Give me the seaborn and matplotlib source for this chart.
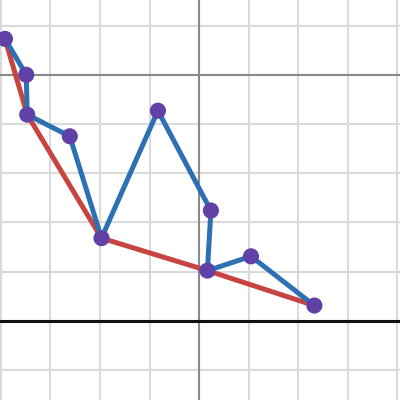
import matplotlib
matplotlib.use('Agg')
import matplotlib.pyplot as plt
import seaborn as sns
import pandas as pd
import numpy as np

# Points du chemin bleu (dans l'ordre)
blue_x = [-3.92, -3.49, -3.47, -2.61, -1.97, -0.83, 0.24, 0.17, 1.05, 2.33]
blue_y = [5.73, 5.00, 4.19, 3.75, 1.68, 4.27, 2.24, 1.02, 1.31, 0.31]

# Chemin rouge (enveloppe inférieure)
red_x = [-3.92, -3.47, -1.97, 0.17, 2.33]
red_y = [5.73, 4.19, 1.68, 1.02, 0.31]

blue_df = pd.DataFrame({'x': blue_x, 'y': blue_y})
red_df = pd.DataFrame({'x': red_x, 'y': red_y})

sns.set_style('white')
fig = plt.figure(figsize=(4, 4), dpi=100)
ax = fig.add_axes([0, 0, 1, 1])

# Grille
for gx in range(-4, 5):
    ax.axvline(gx, color='#dadada', lw=1.5, zorder=0)
for gy in range(-1, 7):
    ax.axhline(gy, color='#dadada', lw=1.5, zorder=0)
ax.axvline(0, color='#8a8a8a', lw=1.5, zorder=1)
ax.axhline(5, color='#8a8a8a', lw=1.5, zorder=1)
ax.axhline(0, color='#111111', lw=2.2, zorder=1)

sns.lineplot(data=red_df, x='x', y='y', sort=False, color='#c74440',
             lw=3.6, ax=ax, zorder=2)
sns.lineplot(data=blue_df, x='x', y='y', sort=False, color='#2d70b3',
             lw=3.6, ax=ax, zorder=3)
sns.scatterplot(data=blue_df, x='x', y='y', color='#6042a6', s=135,
                edgecolor='none', ax=ax, zorder=4)

ax.set_xlim(-4.02, 4.06)
ax.set_ylim(-1.61, 6.52)
ax.set_xlabel('')
ax.set_ylabel('')
ax.set_xticks([])
ax.set_yticks([])
for s in ax.spines.values():
    s.set_visible(False)

plt.savefig('out.png', dpi=100)
plt.close()
